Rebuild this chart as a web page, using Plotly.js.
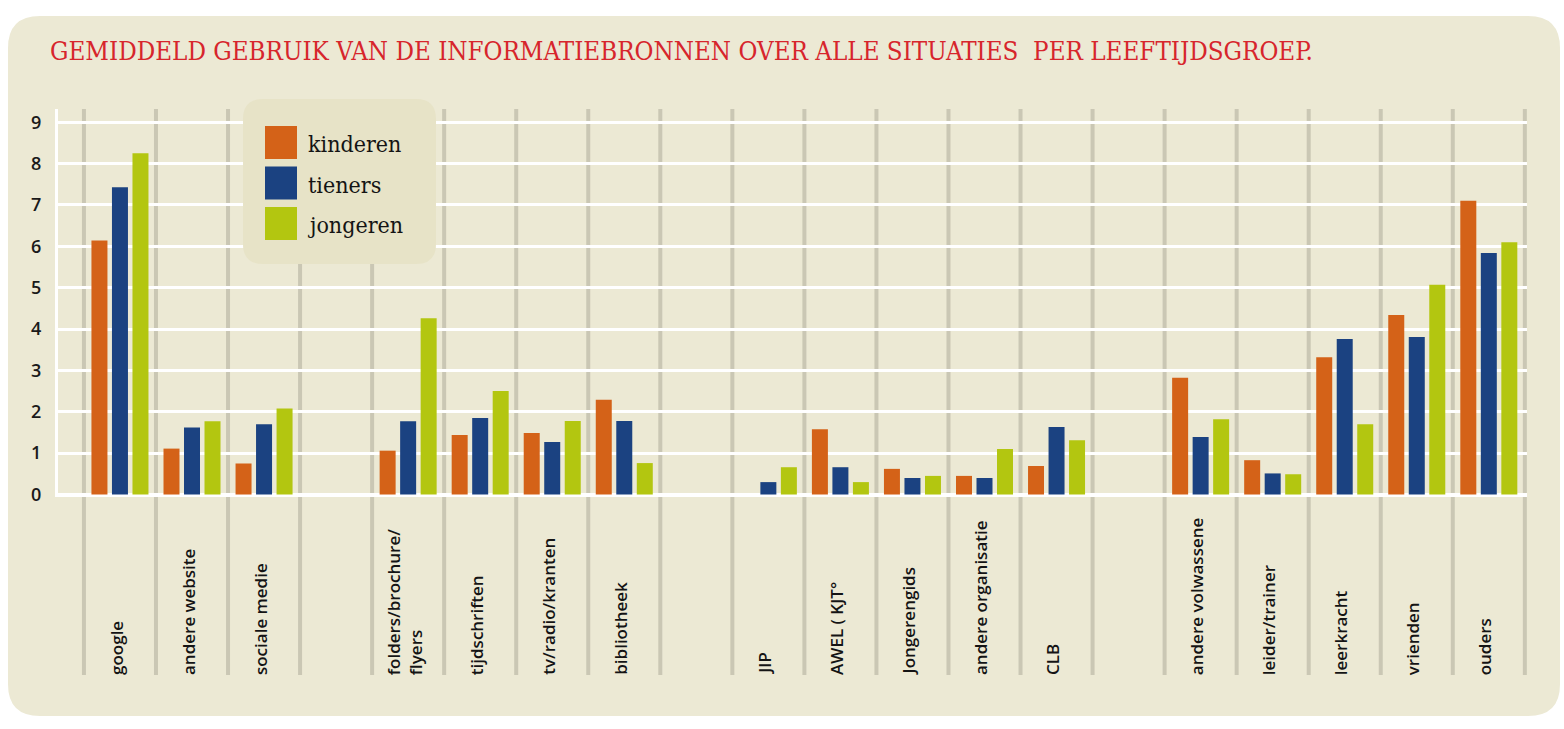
<!DOCTYPE html>
<html>
<head>
<meta charset="utf-8">
<script src="https://cdn.plot.ly/plotly-3.0.1.min.js"></script>
<style>html,body{margin:0;padding:0;background:#fff;}#chart{width:1564px;height:729px;}</style>
</head>
<body>
<div id="chart"></div>
<script>
// ---- data ----
const categories = ['google', 'andere website', 'sociale medie', ' ',
  'folders/brochure/<br>flyers', 'tijdschriften', 'tv/radio/kranten', 'bibliotheek', '  ',
  'JIP', 'AWEL ( KJT°', 'Jongerengids', 'andere organisatie', 'CLB', '   ',
  'andere volwassene', 'leider/trainer', 'leerkracht', 'vrienden', 'ouders'];
const seriesNames = ['kinderen', 'tieners', 'jongeren'];
const kinderen = [6.14, 1.11, 0.75, null, 1.06, 1.44, 1.49, 2.29, null, 0, 1.58, 0.62, 0.45, 0.69, null, 2.82, 0.83, 3.32, 4.34, 7.10];
const tieners  = [7.43, 1.62, 1.70, null, 1.77, 1.85, 1.27, 1.78, null, 0.30, 0.66, 0.40, 0.40, 1.63, null, 1.39, 0.51, 3.76, 3.81, 5.84];
const jongeren = [8.25, 1.77, 2.08, null, 4.26, 2.50, 1.78, 0.76, null, 0.66, 0.30, 0.45, 1.10, 1.31, null, 1.82, 0.49, 1.70, 5.07, 6.10];
const yTicks = [0, 1, 2, 3, 4, 5, 6, 7, 8, 9];
const titleText = 'GEMIDDELD GEBRUIK VAN DE INFORMATIEBRONNEN OVER ALLE SITUATIES  PER LEEFTIJDSGROEP.';

// ---- style ----
const colors = ['#D46218', '#1B4281', '#B3C610'];
const W = 1564, H = 729;
const M = {l: 58, r: 37, t: 109, b: 232};
const plotW = W - M.l - M.r, plotH = H - M.t - M.b;
const px = x => (x - M.l) / plotW;
const py = y => (H - M.b - y) / plotH;

function roundRect(x0, y0, x1, y1, r) {
  const X = px, Y = py;
  return 'M' + X(x0 + r) + ',' + Y(y0) +
    ' L' + X(x1 - r) + ',' + Y(y0) + ' Q' + X(x1) + ',' + Y(y0) + ' ' + X(x1) + ',' + Y(y0 + r) +
    ' L' + X(x1) + ',' + Y(y1 - r) + ' Q' + X(x1) + ',' + Y(y1) + ' ' + X(x1 - r) + ',' + Y(y1) +
    ' L' + X(x0 + r) + ',' + Y(y1) + ' Q' + X(x0) + ',' + Y(y1) + ' ' + X(x0) + ',' + Y(y1 - r) +
    ' L' + X(x0) + ',' + Y(y0 + r) + ' Q' + X(x0) + ',' + Y(y0) + ' ' + X(x0 + r) + ',' + Y(y0) + ' Z';
}

const allSeries = [kinderen, tieners, jongeren];
const traces = allSeries.map((vals, i) => ({
  type: 'bar',
  name: seriesNames[i],
  x: categories,
  y: vals,
  marker: {color: colors[i], line: {width: 0}},
  showlegend: false,
  hoverinfo: 'x+y+name'
}));

const shapes = [];
// panel background
shapes.push({type: 'path', xref: 'paper', yref: 'paper', layer: 'below',
  path: roundRect(8, 16, 1560, 716, 32), fillcolor: '#ECE9D4', line: {width: 0}});
// category separators
for (let i = 0; i <= categories.length; i++) {
  shapes.push({type: 'line', xref: 'x', yref: 'paper', layer: 'below',
    x0: i - 0.5, x1: i - 0.5, y0: py(675), y1: 1,
    line: {color: '#CAC7B4', width: 4}});
}
// legend box
shapes.push({type: 'path', xref: 'paper', yref: 'paper', layer: 'above',
  path: roundRect(243, 99, 436, 264, 20), fillcolor: '#E7E3C7', line: {width: 0}});
const annotations = [];
seriesNames.forEach((n, i) => {
  const top = 126 + i * 40.5;
  shapes.push({type: 'rect', xref: 'paper', yref: 'paper', layer: 'above',
    x0: px(265), x1: px(297), y0: py(top + 33), y1: py(top),
    fillcolor: colors[i], line: {width: 0}});
  annotations.push({xref: 'paper', yref: 'paper', x: px(307), y: py(top + 18),
    xanchor: 'left', yanchor: 'middle', showarrow: false, text: n,
    font: {family: '"DejaVu Serif Condensed", "DejaVu Serif", serif', size: 23, color: '#141414'},
    borderpad: 0});
});
// category labels
categories.forEach(c => {
  if (!c.trim()) return;
  annotations.push({xref: 'x', yref: 'paper', x: c, y: py(675), xshift: -4,
    xanchor: 'center', yanchor: 'bottom', textangle: -90, align: 'left',
    showarrow: false, text: c, borderpad: 0, borderwidth: 0,
    font: {family: '"Open Sans", sans-serif', size: 17, weight: 600, color: '#141414'}});
});

const layout = {
  width: W, height: H,
  margin: M,
  paper_bgcolor: '#ffffff',
  plot_bgcolor: 'rgba(0,0,0,0)',
  barmode: 'group',
  bargap: 0.146,
  bargroupgap: 0.22,
  title: {text: titleText, x: 50 / W, xanchor: 'left', xref: 'container',
    y: 1 - 51 / H, yanchor: 'middle', yref: 'container',
    font: {family: '"DejaVu Serif Condensed", "DejaVu Serif", serif', size: 25.7, color: '#D7252C'}},
  xaxis: {type: 'category', range: [-0.86, 19.53], showticklabels: false,
    showgrid: false, zeroline: false, showline: false, ticks: '', fixedrange: true},
  yaxis: {range: [-0.06, 9.32], tickvals: yTicks, ticktext: yTicks.map(String),
    showgrid: true, gridcolor: '#ffffff', gridwidth: 3,
    zeroline: true, zerolinecolor: '#ffffff', zerolinewidth: 4,
    showline: true, linecolor: '#ffffff', linewidth: 3,
    ticks: 'outside', ticklen: 10, tickcolor: 'rgba(0,0,0,0)',
    tickfont: {family: '"Open Sans", sans-serif', size: 18, weight: 600, color: '#1a1a1a'},
    fixedrange: true},
  shapes: shapes,
  annotations: annotations
};

Plotly.newPlot('chart', traces, layout, {displayModeBar: false, staticPlot: true});
</script>
</body>
</html>
